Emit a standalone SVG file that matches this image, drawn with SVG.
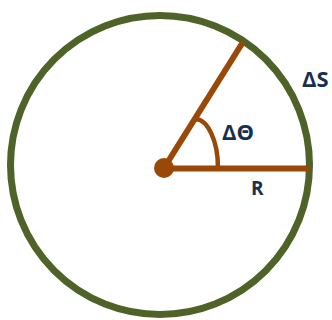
<svg xmlns="http://www.w3.org/2000/svg" width="332" height="320" viewBox="0 0 332 320">
<style>
.lbl{font-family:"Open Sans","Liberation Sans",sans-serif;font-weight:bold;fill:#17304f}
.brown{stroke:#984807;fill:none}
</style>
<rect width="332" height="320" fill="#ffffff"/>
<g id="circle">
<circle cx="160" cy="165" r="149.5" fill="none" stroke="#4f6228" stroke-width="7"/>
</g>
<g id="connectors">
<line class="brown" x1="164" y1="168.5" x2="310" y2="168.5" stroke-width="6"/>
<line class="brown" x1="164" y1="168" x2="243" y2="42" stroke-width="6"/>
<path class="brown" d="M195 119 A23 49 0 0 1 218 168" stroke-width="4.5"/>
</g>
<g id="center">
<circle cx="164" cy="168" r="10" fill="#984807"/>
</g>
<g id="label-ds"><text class="lbl" x="302" y="87" font-size="22">ΔS</text></g>
<g id="label-dtheta"><text class="lbl" x="222" y="140" font-size="22">ΔΘ</text></g>
<g id="label-r"><text class="lbl" x="251" y="195" font-size="19">R</text></g>
</svg>
